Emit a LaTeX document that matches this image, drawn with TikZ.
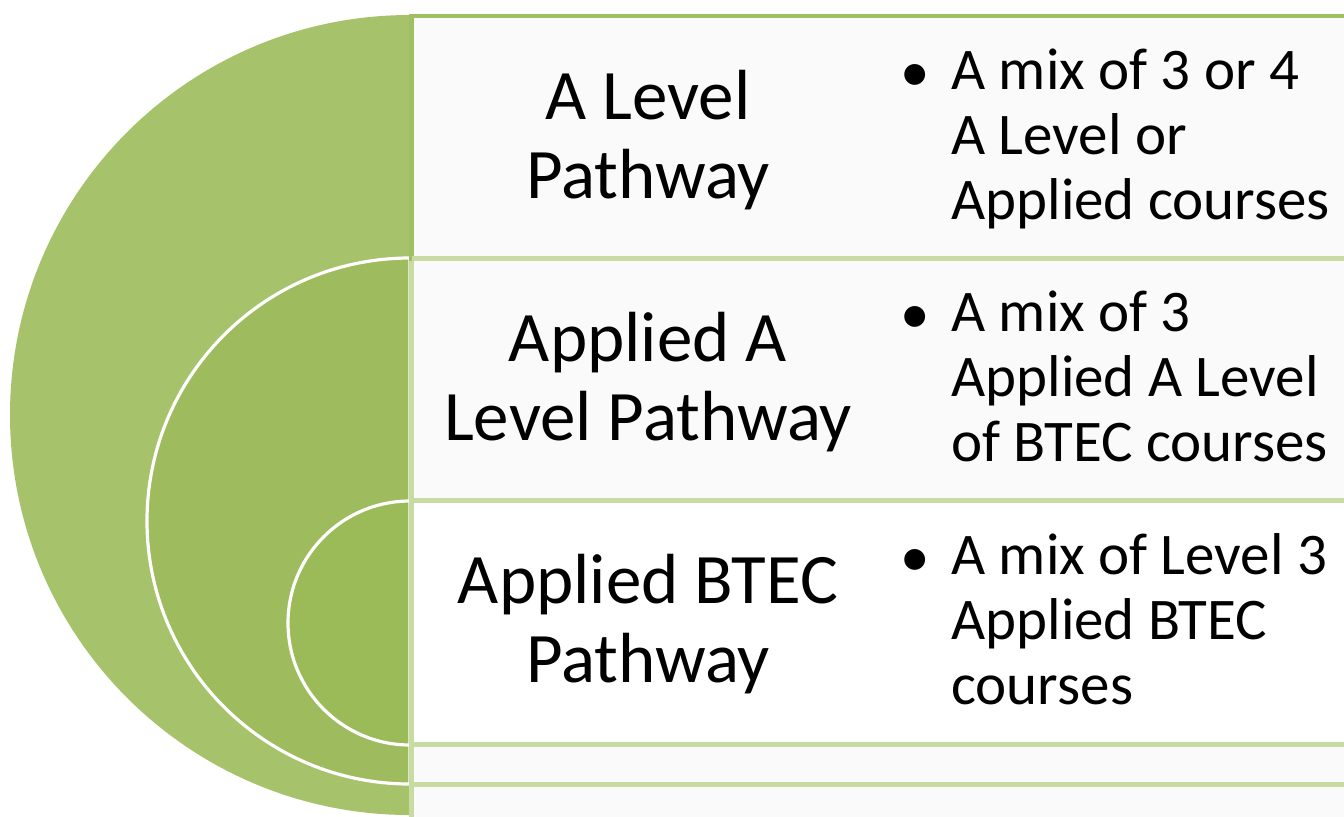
\documentclass[tikz,border=0pt]{standalone}
\usepackage{fontspec}
\setmainfont{Carlito}
\definecolor{gOuter}{RGB}{166,194,106}
\definecolor{gMid}{RGB}{158,187,94}
\definecolor{gIn}{RGB}{155,187,89}
\definecolor{bDark}{RGB}{160,191,101}
\definecolor{bLight}{RGB}{200,219,163}
\definecolor{boxfill}{RGB}{250,250,250}
\tikzset{
  panel/.style={fill=boxfill, draw=bLight, line width=2.4pt},
  toppanel/.style={fill=boxfill, draw=bDark, line width=2.2pt},
  ring/.style={draw=white, line width=1.6pt},
  lefttext/.style={align=center, font=\fontsize{35.5}{39.5}\selectfont, inner sep=0pt},
  righttext/.style={align=left, font=\fontsize{29.5}{32.5}\selectfont, inner sep=0pt, anchor=base west},
  bullet/.style={font=\fontsize{29.5}{32.5}\selectfont, inner sep=0pt, anchor=base}
}
\begin{document}
\begin{tikzpicture}[x=0.5pt,y=-0.5pt]
\useasboundingbox[fill=white] (0,0) rectangle (1344,816);
% semicircles
\fill[gOuter] (410,15) arc[start angle=90,end angle=270,radius=200pt] -- cycle;
\filldraw[fill=gMid, ring] (410,258) arc[start angle=90,end angle=270,radius=131.5pt] -- cycle;
\filldraw[fill=gIn, ring] (410,501) arc[start angle=90,end angle=270,radius=61pt] -- cycle;
% panels
\draw[panel] (411.5,784.5) rectangle (1370,840);
\draw[panel] (411.5,744.5) rectangle (1370,784.5);
\draw[panel, fill=white] (411.5,500.5) rectangle (1370,744.5);
\draw[panel] (411.5,258.5) rectangle (1370,500.5);
\draw[toppanel] (411.5,16) rectangle (1370,258.5);
\draw[bLight, line width=2.4pt] (411.5,258.5) -- (1370,258.5);
% left texts
\node[lefttext] (t1) at (648,140) {A Level\\Pathway};
\node[lefttext] (t2) at (648,382) {Applied A\\Level Pathway};
\node[lefttext] (t3) at (648,624) {Applied BTEC\\Pathway};
% bullets
\node[bullet] (b1) at (915,91) {•};
\node[bullet] (b2) at (915,333) {•};
\node[bullet] (b3) at (915,576) {•};
% right texts (anchor = baseline of last line)
\node[righttext] (r1) at (951,219) {A mix of 3 or 4\\A Level or\\Applied courses};
\node[righttext] (r2) at (951,461) {A mix of 3\\Applied A Level\\of BTEC courses};
\node[righttext] (r3) at (951,704) {A mix of Level 3\\Applied BTEC\\courses};
\end{tikzpicture}
\end{document}
